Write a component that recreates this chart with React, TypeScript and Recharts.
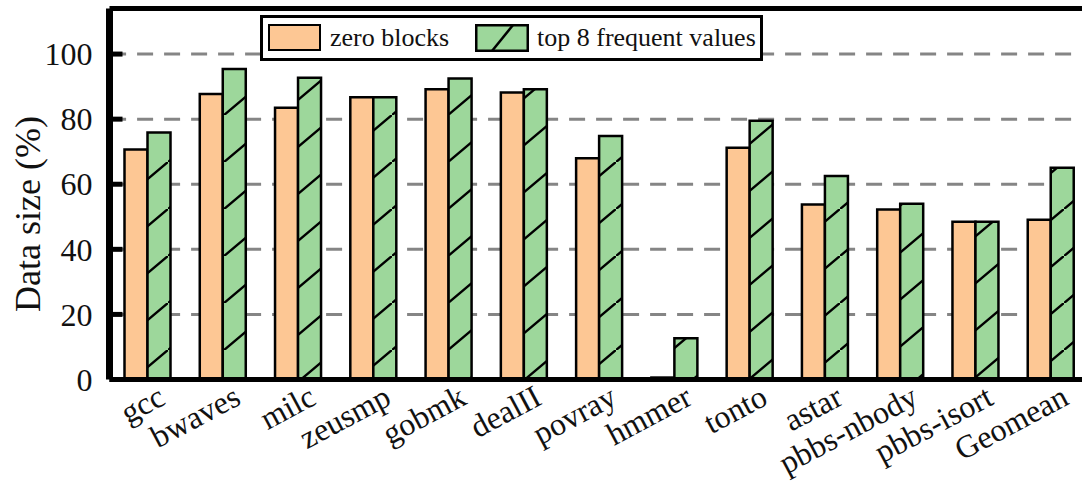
import { BarChart, Bar, XAxis, YAxis, CartesianGrid, Legend, ReferenceLine } from 'recharts'

const benchmarks = [
  'gcc', 'bwaves', 'milc', 'zeusmp', 'gobmk', 'dealII', 'povray',
  'hmmer', 'tonto', 'astar', 'pbbs-nbody', 'pbbs-isort', 'Geomean',
]
const zeroBlocks = [70.7, 87.7, 83.5, 86.7, 89.2, 88.2, 68.0, 0.6, 71.2, 53.8, 52.2, 48.5, 49.1]
const top8Values = [75.9, 95.4, 92.7, 86.7, 92.5, 89.2, 74.8, 12.7, 79.5, 62.5, 54.0, 48.5, 65.1]
const yTicks = [0, 20, 40, 60, 80, 100]
const yMax = 114
const seriesNames = ['zero blocks', 'top 8 frequent values']

const data = benchmarks.map((name, i) => ({
  name,
  zero: zeroBlocks[i],
  top8: top8Values[i],
}))

const ORANGE = '#fdc794'
const GREEN = '#9dd79b'
const FONT = '"Liberation Serif", "Times New Roman", Times, serif'

function YTick(props: any) {
  const { x, y, payload } = props
  return (
    <g>
      <line x1={x} x2={x + 13} y1={y} y2={y} stroke="#000" strokeWidth={5} />
      <text x={x - 17} y={y} dy="0.35em" textAnchor="end" fill="#111" style={{ fontFamily: FONT, fontSize: 32 }}>
        {payload.value}
      </text>
    </g>
  )
}

function XTick(props: any) {
  const { x, y, payload } = props
  const ax = x + 20
  const ay = y + 24
  return (
    <text
      x={ax}
      y={ay}
      textAnchor="end"
      fill="#111"
      transform={`rotate(-28, ${ax}, ${ay})`}
      style={{ fontFamily: FONT, fontSize: 32 }}
    >
      {payload.value}
    </text>
  )
}

function LegendBox() {
  return (
    <div
      style={{
        position: 'relative',
        width: 497,
        height: 40,
        border: '3px solid #000',
        background: '#fff',
        fontFamily: FONT,
        fontSize: 26,
        color: '#111',
      }}
    >
      <div
        style={{
          position: 'absolute', left: 5, top: 6, width: 49, height: 23,
          background: ORANGE, border: '2.5px solid #000',
        }}
      />
      <span style={{ position: 'absolute', left: 67, top: 0, lineHeight: '40px', whiteSpace: 'nowrap' }}>
        {seriesNames[0]}
      </span>
      <svg style={{ position: 'absolute', left: 212, top: 6 }} width={54} height={28}>
        <rect x={1.25} y={1.25} width={51.5} height={25.5} fill={GREEN} stroke="#000" strokeWidth={2.5} />
        <line x1={17} y1={27} x2={38} y2={1} stroke="#000" strokeWidth={2.5} />
      </svg>
      <span style={{ position: 'absolute', left: 274, top: 0, lineHeight: '40px', whiteSpace: 'pre' }}>
        {seriesNames[1]}
      </span>
    </div>
  )
}

export default function App() {
  return (
    <div style={{ position: 'absolute', left: 0, top: 0, width: 1082, height: 487, overflow: 'hidden', background: '#fff' }}>
      <BarChart
        width={1088}
        height={487}
        data={data}
        margin={{ top: 8.5, right: 0, left: 0, bottom: 0 }}
        barSize={23}
        barGap={0}
      >
        <defs>
          <pattern
            id="hatch"
            patternUnits="userSpaceOnUse"
            width={56}
            height={47}
            patternTransform="translate(0,21)"
          >
            <rect x={0} y={0} width={56} height={47} fill={GREEN} />
            <line x1={-2} y1={48.7} x2={58} y2={-1.7} stroke="#000" strokeWidth={2.5} />
          </pattern>
        </defs>
        <CartesianGrid
          vertical={false}
          stroke="#858585"
          strokeWidth={3}
          strokeDasharray="16 11"
          strokeDashoffset={26.4}
        />
        <XAxis
          dataKey="name"
          interval={0}
          height={107.5}
          tickLine={false}
          tickSize={0}
          tickMargin={0}
          tick={<XTick />}
          axisLine={{ stroke: '#000', strokeWidth: 5 }}
        />
        <YAxis
          width={109.5}
          domain={[0, yMax]}
          ticks={yTicks}
          interval={0}
          tickLine={false}
          tickSize={0}
          tickMargin={0}
          tick={<YTick />}
          axisLine={{ stroke: '#000', strokeWidth: 7 }}
          label={{
            value: 'Data size (%)',
            angle: -90,
            position: 'center',
            dx: -28,
            dy: 20,
            style: { fontSize: 36, fontFamily: FONT, fill: '#111' },
          }}
        />
        <ReferenceLine y={yMax} stroke="#000" strokeWidth={5} />
        <Legend
          layout="horizontal"
          verticalAlign="middle"
          align="center"
          wrapperStyle={{ left: 260, top: 15, width: 503, height: 46 }}
          content={() => <LegendBox />}
        />
        <Bar
          dataKey="zero"
          name={seriesNames[0]}
          fill={ORANGE}
          stroke="#000"
          strokeWidth={2.5}
          isAnimationActive={false}
        />
        <Bar
          dataKey="top8"
          name={seriesNames[1]}
          fill="url(#hatch)"
          stroke="#000"
          strokeWidth={2.5}
          isAnimationActive={false}
        />
      </BarChart>
    </div>
  )
}
